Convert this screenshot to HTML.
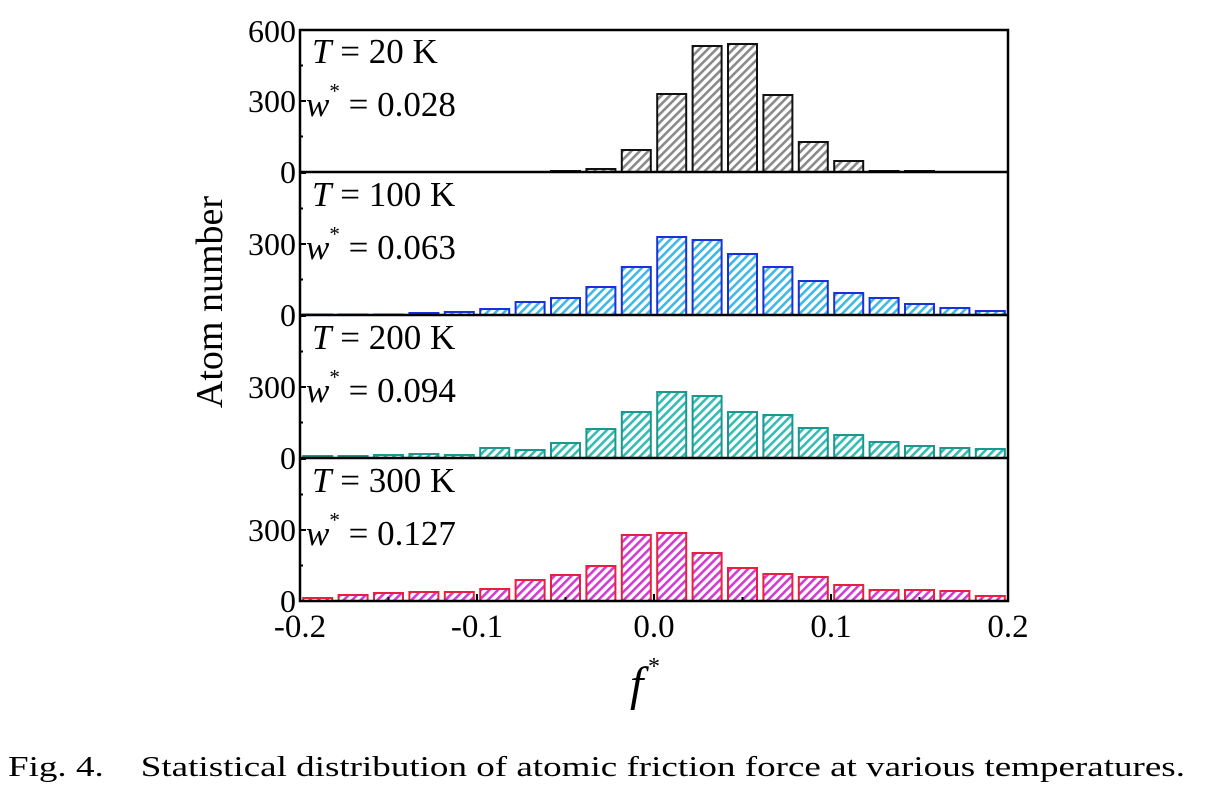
<!DOCTYPE html>
<html><head><meta charset="utf-8"><style>
body{margin:0;background:#fff;width:1223px;height:790px;overflow:hidden}
svg{display:block}
text{font-family:"Liberation Serif",serif;fill:#000}
</style></head><body>
<svg id="s" width="1223" height="790" xmlns="http://www.w3.org/2000/svg">
<defs>
<pattern id="pg" patternUnits="userSpaceOnUse" width="6" height="6" patternTransform="rotate(45)"><rect width="6" height="6" fill="#fff"/><rect width="2.6" height="6" fill="#8a8a8a"/></pattern>
<pattern id="pb" patternUnits="userSpaceOnUse" width="6" height="6" patternTransform="rotate(45)"><rect width="6" height="6" fill="#fff"/><rect width="2.6" height="6" fill="#3fb8e6"/></pattern>
<pattern id="pt" patternUnits="userSpaceOnUse" width="6" height="6" patternTransform="rotate(45)"><rect width="6" height="6" fill="#fff"/><rect width="2.6" height="6" fill="#35bdb4"/></pattern>
<pattern id="pp" patternUnits="userSpaceOnUse" width="6" height="6" patternTransform="rotate(45)"><rect width="6" height="6" fill="#fff"/><rect width="2.6" height="6" fill="#d43ad4"/></pattern>
</defs>
<g id="bars"></g>
<g stroke="#000" stroke-width="2.5" fill="none">
<rect x="300" y="30" width="708" height="571"/>
<line x1="300" y1="172" x2="1008" y2="172"/>
<line x1="300" y1="315" x2="1008" y2="315"/>
<line x1="300" y1="458" x2="1008" y2="458"/>
</g>
<g id="ticks" stroke="#000" stroke-width="2"></g>
<g font-size="32" text-anchor="end">
<text x="296" y="42">600</text><text x="296" y="112">300</text><text x="296" y="183">0</text>
<text x="296" y="255">300</text><text x="296" y="326">0</text>
<text x="296" y="398">300</text><text x="296" y="469">0</text>
<text x="296" y="541">300</text><text x="296" y="612">0</text>
</g>
<g font-size="33" text-anchor="middle">
<text x="300" y="637">-0.2</text><text x="477" y="637">-0.1</text><text x="654" y="637">0.0</text><text x="831" y="637">0.1</text><text x="1008" y="637">0.2</text>
</g>
<g font-size="35">
<text x="312" y="63"><tspan font-style="italic">T</tspan> = 20 K</text>
<text x="306" y="116"><tspan font-style="italic">w</tspan><tspan font-size="21" dy="-18">*</tspan><tspan dy="18"> = 0.028</tspan></text>
<text x="312" y="206"><tspan font-style="italic">T</tspan> = 100 K</text>
<text x="306" y="259"><tspan font-style="italic">w</tspan><tspan font-size="21" dy="-18">*</tspan><tspan dy="18"> = 0.063</tspan></text>
<text x="312" y="349"><tspan font-style="italic">T</tspan> = 200 K</text>
<text x="306" y="402"><tspan font-style="italic">w</tspan><tspan font-size="21" dy="-18">*</tspan><tspan dy="18"> = 0.094</tspan></text>
<text x="312" y="492"><tspan font-style="italic">T</tspan> = 300 K</text>
<text x="306" y="545"><tspan font-style="italic">w</tspan><tspan font-size="21" dy="-18">*</tspan><tspan dy="18"> = 0.127</tspan></text>
</g>
<text x="222" y="302" font-size="38" text-anchor="middle" transform="rotate(-90 222 302)">Atom number</text>
<text x="630" y="700" font-size="48" font-style="italic">f</text>
<text x="648" y="674" font-size="24">*</text>
<text x="8" y="776" font-size="29" textLength="1177" lengthAdjust="spacingAndGlyphs" xml:space="preserve">Fig. 4.    Statistical distribution of atomic friction force at various temperatures.</text>
</svg>
<script>
var P=[
 {b:172,p:"pg",e:"#111",h:[0,0,0,0,0,0,0,1,3,22,78,126,128,77,30,11,1,1,0,0]},
 {b:315,p:"pb",e:"#1a30d8",h:[0.5,0.5,0.5,2,3,6,13,17,28,48,78,75,61,48,34,22,17,11,7,4]},
 {b:458,p:"pt",e:"#1a9890",h:[2,2,3,4,3,10,8,15,29,46,66,62,46,43,30,23,16,12,10,9]},
 {b:601,p:"pp",e:"#e82040",h:[3,6,8,9,9,12,21,26,35,66,68,48,33,27,24,16,11,11,10,5]}];
var g=document.getElementById("bars"),s="";
P.forEach(function(q){q.h.forEach(function(h,i){if(h<=0)return;var c=300+(0.01+0.02*i)*1770;
s+='<rect x="'+(c-14.5)+'" y="'+(q.b-h)+'" width="29" height="'+h+'" fill="url(#'+q.p+')" stroke="'+q.e+'" stroke-width="2"/>';});});
g.innerHTML=s;
var t="",bs=[172,315,458,601];
bs.forEach(function(b){for(var k=1;k<=4;k++){var y=b-k*35.5;var l=(k%2==0)?6:3;if(y>31)t+='<line x1="300" y1="'+y+'" x2="'+(300+l)+'" y2="'+y+'"/>';}});
for(var k=0;k<=8;k++){var x=300+k*88.5;var l=(k%2==0)?7:4;t+='<line x1="'+x+'" y1="601" x2="'+x+'" y2="'+(601-l)+'"/>';}
document.getElementById("ticks").innerHTML=t;
</script>
</body></html>
